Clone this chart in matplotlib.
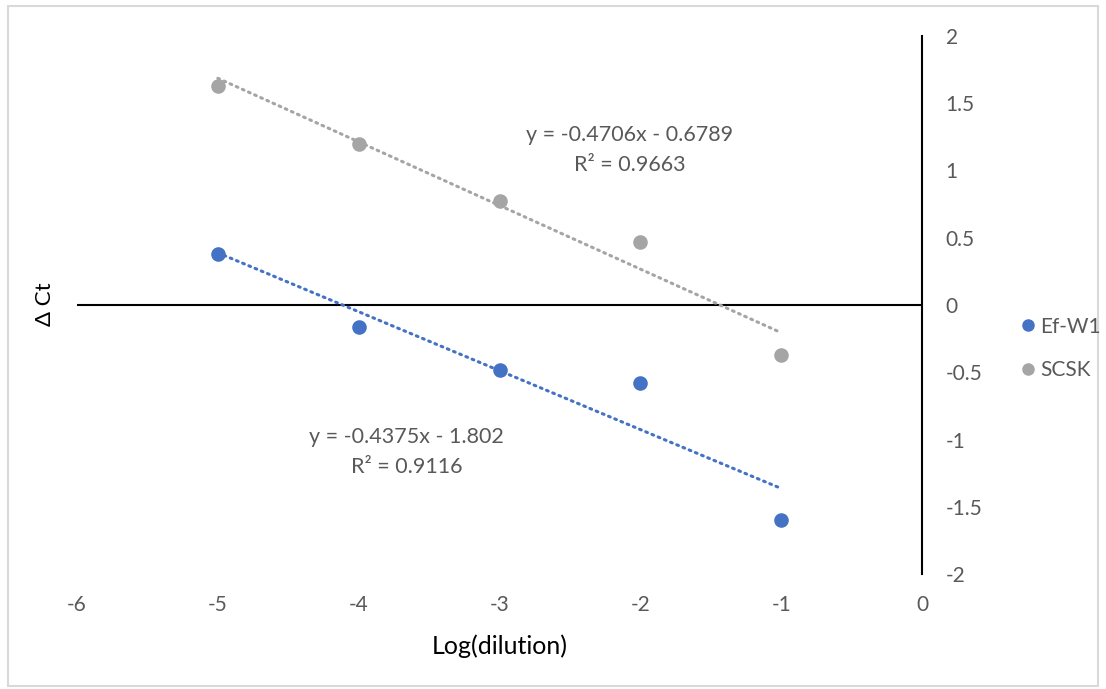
import numpy as np
import matplotlib
matplotlib.use("Agg")
import matplotlib.pyplot as plt
from matplotlib.lines import Line2D
from matplotlib.patches import Rectangle

plt.rcParams['font.family'] = ['Lato', 'DejaVu Sans']

# data
dilution = [-5, -4, -3, -2, -1]
ef_w1 = [0.38, -0.16, -0.48, -0.58, -1.60]
scsk = [1.63, 1.20, 0.77, 0.47, -0.37]

series_names = ['Ef-W1', 'SCSK']
series_colors = ['#4472C4', '#A5A5A5']
equations = ['y = -0.4375x - 1.802\nR² = 0.9116',
             'y = -0.4706x - 0.6789\nR² = 0.9663']

xticks = [-6, -5, -4, -3, -2, -1, 0]
yticks = [-2, -1.5, -1, -0.5, 0, 0.5, 1, 1.5, 2]
ytick_labels = ['-2', '-1.5', '-1', '-0.5', '0', '0.5', '1', '1.5', '2']

txt_color = '#595959'

fig = plt.figure(figsize=(11.06, 6.89), dpi=100)
ax = fig.add_axes([77 / 1106, 1 - 574 / 689, (922 - 77) / 1106, (574 - 36) / 689])

# chart border
fig.patches.append(Rectangle((8 / 1106, 3 / 689), 1090 / 1106, 680 / 689,
                             transform=fig.transFigure, fill=False,
                             edgecolor='#D9D9D9', linewidth=1.5))

for name, ys, col in zip(series_names, [ef_w1, scsk], series_colors):
    ax.scatter(dilution, ys, s=90, color=col, zorder=3, label=name)
    k, b = np.polyfit(dilution, ys, 1)
    xs = np.array([dilution[0], dilution[-1]])
    ax.plot(xs, k * xs + b, color=col, linestyle=(0, (0.6, 1.6)),
            linewidth=2.2, dash_capstyle='round', zorder=2)

# equation labels
ax.text(-3.658, -1.093, equations[0], ha='center', va='center',
        fontsize=15.5, color=txt_color, linespacing=1.6)
ax.text(-2.074, 1.152, equations[1], ha='center', va='center',
        fontsize=15.5, color=txt_color, linespacing=1.6)

ax.set_xlim(-6, 0)
ax.set_ylim(-2, 2)
ax.axhline(0, color='black', linewidth=1.5, zorder=1)

for s in ['top', 'bottom', 'left']:
    ax.spines[s].set_visible(False)
ax.spines['right'].set_color('black')
ax.spines['right'].set_linewidth(1.5)

ax.set_xticks(xticks)
ax.set_xticklabels([str(t) for t in xticks])
ax.set_yticks(yticks)
ax.set_yticklabels(ytick_labels)
ax.yaxis.tick_right()
ax.tick_params(axis='x', length=0, pad=15, labelsize=15, labelcolor=txt_color)
ax.tick_params(axis='y', length=0, pad=17, labelsize=15, labelcolor=txt_color)
for lbl in ax.get_yticklabels():
    lbl.set_horizontalalignment('left')

fig.text(500 / 1106, 1 - 646 / 689, 'Log(dilution)', ha='center', va='center',
         fontsize=18, color='black')
fig.text(45 / 1106, 1 - 304 / 689, 'Δ Ct', ha='center', va='center',
         rotation=90, fontsize=16, color='black')

handles = [Line2D([], [], marker='o', linestyle='none', markersize=8,
                  color=c) for c in series_colors]
fig.legend(handles, series_names, loc='center left',
           bbox_to_anchor=(1003 / 1106, 1 - 348.5 / 689), frameon=False,
           fontsize=15, labelcolor=txt_color, handletextpad=0.28,
           handlelength=0.6, labelspacing=1.15, borderpad=0.4)

fig.savefig('out.png', dpi=100, facecolor='white')
